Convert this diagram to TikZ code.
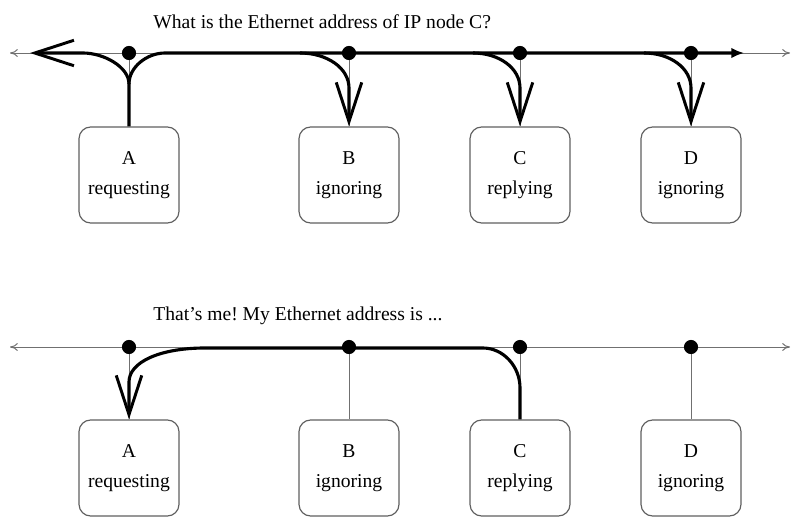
\documentclass[tikz,border=0pt]{standalone}
\usepackage{fontspec}
\setmainfont{Liberation Serif}
\usepackage{tikz}
\usetikzlibrary{arrows.meta,positioning}
\definecolor{ink}{HTML}{000000}
\definecolor{wire}{HTML}{707070}
\definecolor{edge}{HTML}{606060}
\tikzset{
  hostbox/.style={draw=edge,fill=white,line width=0.6pt,rounded corners=6pt,
                  minimum width=51pt,minimum height=49pt,align=center,
                  inner sep=2pt,font=\normalsize},
  busline/.style={draw=wire,line width=0.5pt,{To[length=4pt,width=4pt]}-{To[length=4pt,width=4pt]}},
  tapline/.style={draw=wire,line width=0.5pt},
  tapdot/.style={circle,fill=ink,inner sep=0pt,minimum size=7.2pt},
  msgflow/.style={draw=ink,line width=1.6pt},
  bigbarb/.style={-{Straight Barb[length=20pt,width=13pt,line width=1.5pt]}},
  endtip/.style={-{Latex[length=6.5pt,width=5.5pt]}},
  caption/.style={anchor=west,inner sep=0pt,font=\normalsize}
}
\frenchspacing

\begin{document}
\begin{tikzpicture}[x=0.51pt,y=-0.51pt]
  \useasboundingbox (0,0) rectangle (797,518);

  % Request: broadcast
  \node[caption] (q1) at (153,22) {What is the Ethernet address of IP node C?};
  \coordinate (busL1) at (10,53);
  \coordinate (busR1) at (790,53);
  \draw[busline] (busL1) -- (busR1);

  \node[hostbox] (A1) at (129,175) {A\\[3.5pt]requesting};
  \node[hostbox] (B1) at (349,175) {B\\[3.5pt]ignoring};
  \node[hostbox] (C1) at (520,175) {C\\[3.5pt]replying};
  \node[hostbox] (D1) at (691,175) {D\\[3.5pt]ignoring};

  \coordinate (ta1) at (129,53);
  \coordinate (tb1) at (349,53);
  \coordinate (tc1) at (520,53);
  \coordinate (td1) at (691,53);
  \draw[tapline] (ta1) -- (A1.north);
  \draw[tapline] (tb1) -- (B1.north);
  \draw[tapline] (tc1) -- (C1.north);
  \draw[tapline] (td1) -- (D1.north);

  % Frame goes out both ways from A
  \coordinate (tipL1) at (30,53);
  \coordinate (tipR1) at (744,53);
  \draw[msgflow,bigbarb] (A1.north) -- (129,84)
    .. controls (129,67) and (104,53) .. (83,53) -- (tipL1);
  \draw[msgflow,endtip] (129,84)
    .. controls (129,67) and (147,53) .. (165,53) -- (tipR1);

  % Every other node picks it up
  \draw[msgflow,bigbarb] (300,53) .. controls (327,53) and (349,68) .. (349,88) -- (B1.north);
  \draw[msgflow,bigbarb] (473,53) .. controls (499,53) and (520,68) .. (520,88) -- (C1.north);
  \draw[msgflow,bigbarb] (644,53) .. controls (670,53) and (691,68) .. (691,88) -- (D1.north);

  \node[tapdot] at (ta1) {};
  \node[tapdot] at (tb1) {};
  \node[tapdot] at (tc1) {};
  \node[tapdot] at (td1) {};

  % Reply: unicast
  \node[caption] (q2) at (153,316) {That's me! My Ethernet address is ...};
  \coordinate (busL2) at (10,347);
  \coordinate (busR2) at (790,347);
  \draw[busline] (busL2) -- (busR2);

  \node[hostbox] (A2) at (129,468) {A\\[3.5pt]requesting};
  \node[hostbox] (B2) at (349,468) {B\\[3.5pt]ignoring};
  \node[hostbox] (C2) at (520,468) {C\\[3.5pt]replying};
  \node[hostbox] (D2) at (691,468) {D\\[3.5pt]ignoring};

  \coordinate (ta2) at (129,347);
  \coordinate (tb2) at (349,347);
  \coordinate (tc2) at (520,347);
  \coordinate (td2) at (691,347);
  \draw[tapline] (ta2) -- (A2.north);
  \draw[tapline] (tb2) -- (B2.north);
  \draw[tapline] (tc2) -- (C2.north);
  \draw[tapline] (td2) -- (D2.north);

  \draw[msgflow,bigbarb] (C2.north) -- (520,388)
    .. controls (520,366) and (503,348) .. (483,348) -- (205,348)
    .. controls (160,348) and (129,362) .. (129,382) -- (A2.north);

  \node[tapdot] at (ta2) {};
  \node[tapdot] at (tb2) {};
  \node[tapdot] at (tc2) {};
  \node[tapdot] at (td2) {};
\end{tikzpicture}
\end{document}
